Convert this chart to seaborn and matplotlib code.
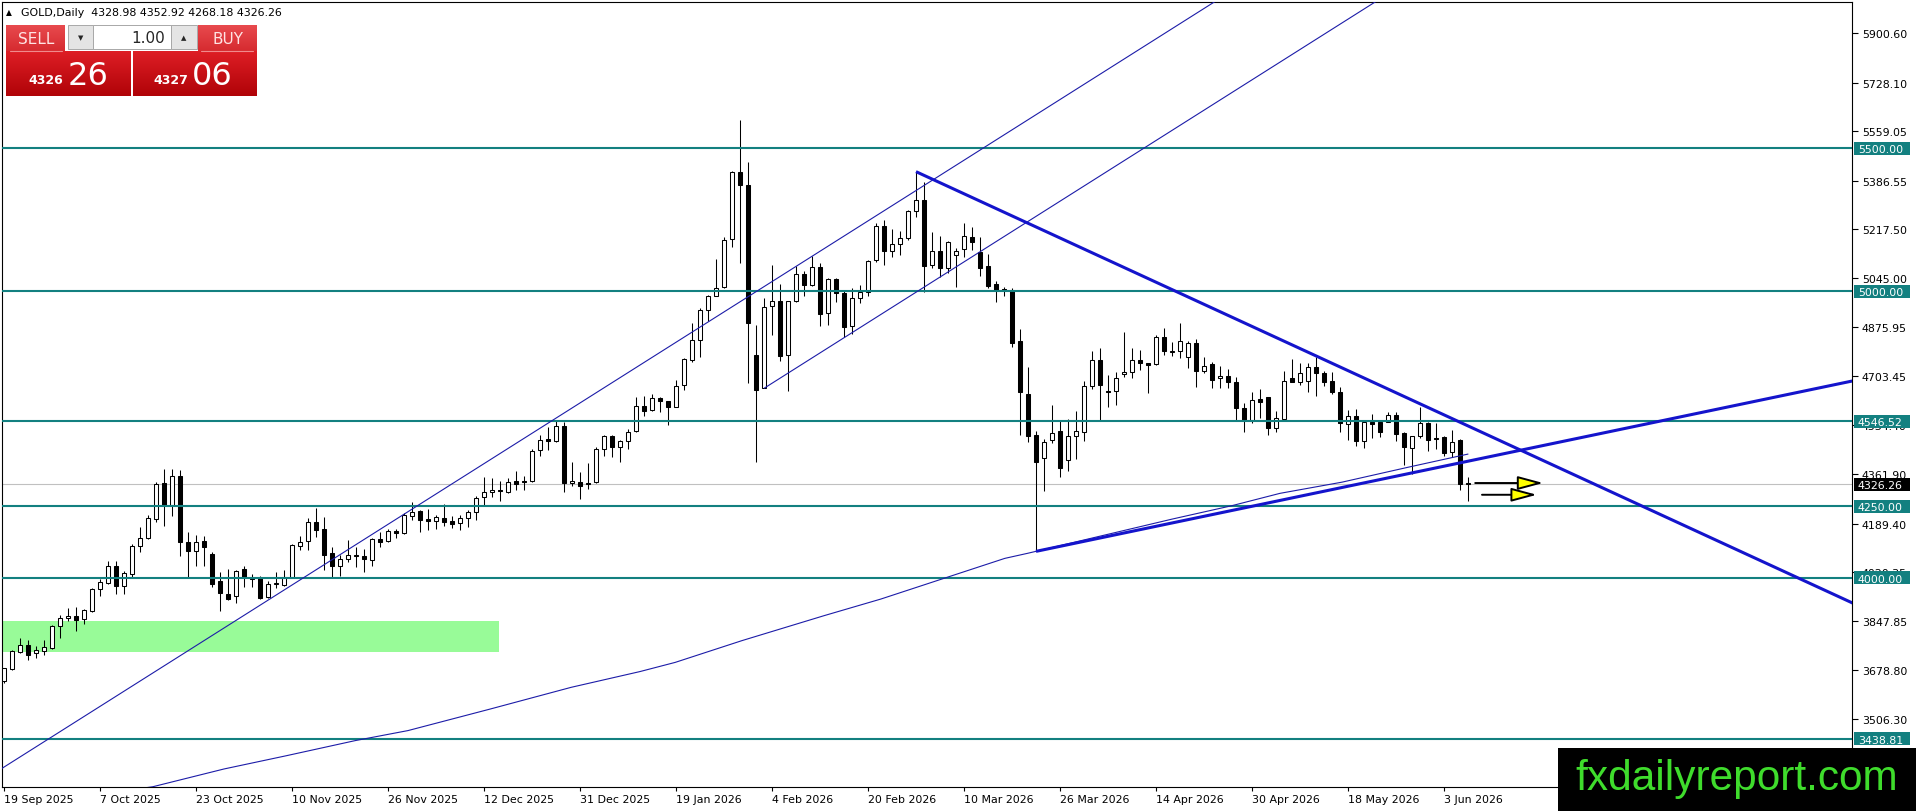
import numpy as np
import pandas as pd
import matplotlib
matplotlib.use("Agg")
import matplotlib.pyplot as plt
import seaborn as sns
from matplotlib.patches import Rectangle
from matplotlib.colors import LinearSegmentedColormap

# --- données (GOLD, Daily) ---
opens = [3641, 3682, 3742, 3764, 3738, 3746, 3756, 3831, 3859, 3866,
         3855, 3885, 3960, 3983, 4041, 3973, 4013, 4110, 4140, 4205,
         4331, 4254, 4354, 4124, 4095, 4129, 4083, 3989, 3944, 3935,
         4031, 3998, 3998, 3932, 3977, 3976, 4002, 4112, 4127, 4194,
         4170, 4086, 4042, 4065, 4077, 4076, 4063, 4136, 4130, 4164,
         4155, 4217, 4232, 4205, 4200, 4208, 4198, 4190, 4208, 4229,
         4281, 4298, 4304, 4301, 4337, 4337, 4337, 4445, 4485, 4476,
         4531, 4330, 4336, 4329, 4333, 4450, 4494, 4456, 4478, 4511,
         4599, 4586, 4627, 4616, 4595, 4673, 4762, 4829, 4935, 4985,
         5014, 5183, 5415, 5371, 4778, 4662, 4948, 4965, 4779, 4965,
         5059, 5023, 5085, 4923, 5043, 4994, 4878, 4976, 4997, 5108,
         5227, 5142, 5164, 5185, 5279, 5320, 5093, 5140, 5082, 5128,
         5148, 5189, 5136, 5087, 5025, 5007, 5003, 4826, 4642, 4499,
         4417, 4482, 4511, 4411, 4496, 4510, 4671, 4760, 4652, 4651,
         4710, 4717, 4762, 4749, 4746, 4839, 4787, 4791, 4770, 4820,
         4721, 4745, 4696, 4703, 4682, 4593, 4551, 4624, 4630, 4522,
         4554, 4696, 4682, 4688, 4735, 4714, 4688, 4650, 4537, 4566,
         4479, 4543, 4543, 4543, 4570, 4504, 4452, 4496, 4540, 4487,
         4493, 4438, 4481, 4328.98]
highs = [3686, 3749, 3789, 3782, 3761, 3783, 3835, 3870, 3895, 3898,
         3891, 3963, 3996, 4059, 4058, 4023, 4117, 4179, 4219, 4333,
         4380, 4380, 4376, 4159, 4151, 4147, 4089, 4019, 4031, 4027,
         4043, 4013, 4008, 3990, 4019, 4027, 4117, 4147, 4210, 4244,
         4211, 4109, 4080, 4132, 4109, 4101, 4140, 4159, 4171, 4172,
         4225, 4264, 4237, 4240, 4219, 4257, 4217, 4219, 4237, 4285,
         4351, 4347, 4339, 4347, 4372, 4354, 4449, 4499, 4525, 4547,
         4545, 4403, 4371, 4400, 4456, 4499, 4499, 4482, 4520, 4632,
         4636, 4643, 4632, 4618, 4691, 4769, 4890, 4941, 4988, 5113,
         5189, 5421, 5598, 5453, 4884, 4975, 5092, 5026, 4968, 5087,
         5071, 5122, 5098, 5048, 5045, 5002, 5011, 5022, 5109, 5239,
         5249, 5218, 5212, 5284, 5418, 5381, 5206, 5194, 5175, 5150,
         5239, 5223, 5189, 5129, 5037, 5015, 5010, 4869, 4735, 4513,
         4485, 4603, 4551, 4554, 4581, 4688, 4791, 4801, 4708, 4720,
         4857, 4801, 4795, 4750, 4848, 4871, 4824, 4888, 4825, 4834,
         4770, 4752, 4738, 4729, 4700, 4609, 4648, 4659, 4632, 4584,
         4723, 4764, 4749, 4749, 4770, 4723, 4717, 4665, 4586, 4589,
         4551, 4572, 4546, 4578, 4578, 4508, 4496, 4597, 4543, 4540,
         4496, 4516, 4483, 4352.92]
lows = [3632, 3680, 3737, 3714, 3719, 3732, 3752, 3791, 3851, 3816,
        3838, 3882, 3938, 3980, 3942, 3945, 4004, 4089, 4136, 4196,
        4182, 4217, 4077, 4004, 4043, 4043, 3969, 3885, 3923, 3914,
        3969, 3969, 3927, 3930, 3966, 3973, 3998, 4097, 4097, 4141,
        4029, 4004, 4005, 4054, 4037, 4022, 4043, 4109, 4126, 4140,
        4152, 4203, 4161, 4168, 4171, 4182, 4175, 4168, 4179, 4203,
        4254, 4281, 4269, 4296, 4308, 4308, 4335, 4426, 4447, 4473,
        4301, 4322, 4275, 4310, 4331, 4427, 4423, 4406, 4450, 4510,
        4566, 4584, 4580, 4535, 4595, 4657, 4755, 4772, 4898, 4985,
        5012, 5156, 5098, 4680, 4403, 4661, 4848, 4758, 4653, 4962,
        4985, 5018, 4878, 4884, 4964, 4840, 4851, 4958, 4983, 5101,
        5093, 5121, 5127, 5180, 5261, 4997, 5082, 5051, 5063, 5014,
        5121, 5146, 5052, 5011, 4964, 4985, 4805, 4499, 4475, 4093,
        4304, 4469, 4351, 4374, 4415, 4479, 4659, 4551, 4597, 4604,
        4700, 4696, 4727, 4644, 4744, 4779, 4773, 4766, 4734, 4667,
        4714, 4661, 4661, 4663, 4552, 4508, 4539, 4558, 4500, 4510,
        4551, 4682, 4674, 4648, 4636, 4668, 4642, 4510, 4481, 4461,
        4452, 4487, 4490, 4543, 4479, 4395, 4362, 4487, 4444, 4450,
        4424, 4421, 4308, 4268.18]
closes = [3684, 3745, 3764, 3732, 3747, 3759, 3831, 3859, 3866, 3854,
          3887, 3960, 3984, 4040, 3973, 4016, 4110, 4140, 4209, 4328,
          4255, 4354, 4124, 4095, 4124, 4109, 3980, 3948, 3926, 4023,
          4004, 3995, 3930, 3979, 3980, 4002, 4115, 4124, 4194, 4168,
          4081, 4042, 4066, 4079, 4075, 4065, 4136, 4126, 4162, 4155,
          4219, 4231, 4203, 4200, 4211, 4196, 4189, 4208, 4229, 4279,
          4298, 4307, 4302, 4336, 4329, 4335, 4442, 4482, 4476, 4531,
          4330, 4337, 4320, 4326, 4450, 4494, 4456, 4478, 4510, 4599,
          4584, 4627, 4616, 4595, 4669, 4764, 4829, 4935, 4985, 5011,
          5179, 5415, 5372, 4888, 4657, 4944, 4965, 4776, 4965, 5059,
          5023, 5085, 4920, 5043, 4994, 4877, 4976, 4997, 5105, 5227,
          5142, 5164, 5185, 5279, 5320, 5087, 5140, 5082, 5171, 5140,
          5192, 5173, 5080, 5018, 5006, 5004, 4819, 4648, 4496, 4406,
          4473, 4504, 4382, 4494, 4511, 4668, 4760, 4674, 4649, 4699,
          4717, 4762, 4749, 4743, 4839, 4791, 4791, 4828, 4820, 4721,
          4738, 4692, 4706, 4682, 4594, 4551, 4622, 4613, 4522, 4557,
          4688, 4685, 4714, 4735, 4714, 4685, 4648, 4540, 4566, 4479,
          4545, 4538, 4508, 4570, 4503, 4456, 4494, 4539, 4482, 4485,
          4436, 4473, 4328, 4326.26]

date_labels = ["19 Sep 2025", "7 Oct 2025", "23 Oct 2025", "10 Nov 2025",
               "26 Nov 2025", "12 Dec 2025", "31 Dec 2025", "19 Jan 2026",
               "4 Feb 2026", "20 Feb 2026", "10 Mar 2026", "26 Mar 2026",
               "14 Apr 2026", "30 Apr 2026", "18 May 2026", "3 Jun 2026"]
date_bars = [0, 12, 24, 36, 48, 60, 72, 84, 96, 108, 120, 132, 144, 156, 168, 180]

price_ticks = [5900.60, 5728.10, 5559.05, 5386.55, 5217.50, 5045.00, 4875.95,
               4703.45, 4534.40, 4361.90, 4189.40, 4020.35, 3847.85, 3678.80,
               3506.30]
levels = [5500.00, 5000.00, 4546.52, 4250.00, 4000.00, 3438.81]
last_price = 4326.26
ohlc_title = "GOLD,Daily  4328.98 4352.92 4268.18 4326.26"

# moyenne mobile (ligne fine)
ma_bar = [12, 18.6, 27.5, 35.25, 43.9, 50.5, 60.75, 70.9, 79.5, 83.9, 92.25,
          102.5, 109.6, 125.1, 128, 146, 153.5, 159.5, 167.25, 175.5, 183]
ma_val = [3245, 3271, 3333, 3379, 3432, 3467, 3542, 3618, 3673, 3705, 3781,
          3868, 3926, 4068, 4086, 4205, 4252, 4295, 4334, 4386, 4432]

# zone verte
zone_bars = [-1, 61.9]
zone_lo, zone_hi = 3740, 3850

# lignes de tendance : (barre d'ancrage, prix d'ancrage, pente par barre, début)
steep_line = (45.75, 4147.1, 17.65, -5)
steep_line2 = (95, 4661.5, 17.65, 95)
resist_line = (114, 5417.7, -12.86, 114)
support_line = (129, 4092.5, 5.827, 129)

# flèches
arrow_y = [4331, 4290]
arrow_from = [183.9, 184.75]
arrow_to = [192.4, 191.6]

# --- figure ---
W, H, DPI = 1916, 812, 100
sns.set_theme(style="white")
plt.rcParams['font.family'] = ['DejaVu Sans']

fig = plt.figure(figsize=(W / DPI, H / DPI), dpi=DPI)
fig.patch.set_facecolor("white")
x_left, x_right, y_top, y_bot = 2, 1852, 3, 788
ax = fig.add_axes([x_left / W, (H - y_bot) / H, (x_right - x_left) / W, (y_bot - y_top) / H])
ax.set_facecolor("white")

xmin, xmax = -0.25, 231.0
ymin, ymax = 3270.1, 6009.8
per_px = (ymax - ymin) / (y_bot - y_top)

df = pd.DataFrame({"open": opens, "high": highs, "low": lows, "close": closes})
df["bar"] = np.arange(len(df))
up = df["close"] >= df["open"]

# zone verte
ax.fill_between(zone_bars, zone_lo, zone_hi, color="#98fb98", lw=0, zorder=0.5)

# niveaux horizontaux
for lv in levels:
    ax.axhline(lv, color="#138080", lw=1.5, zorder=4)
ax.axhline(last_price, color="#c0c0c0", lw=0.8, zorder=1)

# bougies
ax.vlines(df["bar"], df["low"], df["high"], color="black", lw=0.75, zorder=2.9)
body_lo = np.minimum(df["open"], df["close"])
body_h = np.maximum((df["close"] - df["open"]).abs(), 1.2 * per_px)
ax.bar(df["bar"], body_h, bottom=body_lo, width=0.62,
       color=np.where(up, "white", "black"), edgecolor="black", linewidth=0.75, zorder=3)

# moyenne mobile
sns.lineplot(x=ma_bar, y=ma_val, ax=ax, color="#1c1ca8", lw=0.8, zorder=4, legend=False)


def trend(line, end, lw, col):
    b0, p0, slope, start = line
    xs = np.array([start, end])
    ax.plot(xs, p0 + (xs - b0) * slope, color=col, lw=lw, zorder=4.5, solid_capstyle="butt")


trend(steep_line, 300, 0.8, "#1c1ca8")
trend(steep_line2, 300, 0.8, "#1c1ca8")
trend(resist_line, 300, 2.2, "#1414cc")
trend(support_line, 300, 2.2, "#1414cc")

# flèches
for yy, x0, x1 in zip(arrow_y, arrow_from, arrow_to):
    ax.annotate("", xy=(x1, yy), xytext=(x0, yy),
                arrowprops=dict(arrowstyle="-|>,head_length=1.3,head_width=0.35",
                                fc="#ffff00", ec="black", lw=1.4, shrinkA=0, shrinkB=0),
                zorder=6)

ax.set_xlim(xmin, xmax)
ax.set_ylim(ymin, ymax)

# axes
ax.yaxis.tick_right()
ax.set_yticks(price_ticks)
ax.set_yticklabels([f"{v:.2f}" for v in price_ticks])
ax.set_xticks(date_bars)
ax.set_xticklabels(date_labels, ha="left")
ax.tick_params(axis="y", direction="out", length=4, width=0.8, pad=3,
               labelsize=7.9, colors="black", right=True, left=False)
ax.tick_params(axis="x", direction="out", length=3, width=0.8, pad=2,
               labelsize=7.9, colors="black", bottom=True)
for sp in ax.spines.values():
    sp.set_color("black")
    sp.set_linewidth(0.8)
    sp.set_visible(True)
ax.grid(False)

# étiquettes de prix à droite
box_x = 1 + 2 / (x_right - x_left)
box_w = 56 / (x_right - x_left)
txt_x = 1 + 6 / (x_right - x_left)
for lv, fc in [(v, "#138080") for v in levels] + [(last_price, "black")]:
    ax.add_patch(Rectangle((box_x, lv - 6.5 * per_px), box_w, 13 * per_px,
                           transform=ax.get_yaxis_transform(), fc=fc, ec="none",
                           clip_on=False, zorder=7))
    ax.text(txt_x, lv, f"{lv:.2f}", transform=ax.get_yaxis_transform(), ha="left",
            va="center_baseline", color="white", fontsize=7.9, zorder=8, clip_on=False)

# --- panneau SELL / BUY, titre et filigrane (coordonnées pixels) ---
pan = fig.add_axes([0, 0, 1, 1], zorder=10)
pan.set_xlim(0, W)
pan.set_ylim(H, 0)
pan.axis("off")
pan.patch.set_alpha(0)

pan.text(6, 13, "▲", fontsize=5.5, va="center", ha="left", color="black")
pan.text(21, 13, ohlc_title, fontsize=7.9, va="center", ha="left", color="black")

btn_cmap = LinearSegmentedColormap.from_list("btn", ["#e84a4e", "#d62b30"])
box_cmap = LinearSegmentedColormap.from_list("box", ["#de1e25", "#b00308"])
grad = np.linspace(0, 1, 64).reshape(-1, 1)


def grad_box(x0, x1, y0, y1, cmap):
    pan.imshow(grad, extent=(x0, x1, y1, y0), cmap=cmap, aspect="auto", zorder=1,
               interpolation="bilinear")


grad_box(6, 65, 26, 52, btn_cmap)
grad_box(198, 257, 26, 52, btn_cmap)
grad_box(6, 131, 52, 97, box_cmap)
grad_box(133, 257, 52, 97, box_cmap)
pan.plot([10, 62], [51.5, 51.5], color="#f08a8c", lw=0.8, zorder=2)
pan.plot([201, 253], [51.5, 51.5], color="#f08a8c", lw=0.8, zorder=2)
pan.add_patch(Rectangle((68, 26), 25, 24, fc="#e4e4e4", ec="#a8a8a8", lw=0.7, zorder=2))
pan.add_patch(Rectangle((93, 26), 78, 24, fc="white", ec="#a8a8a8", lw=0.7, zorder=2))
pan.add_patch(Rectangle((171, 26), 26, 24, fc="#e4e4e4", ec="#a8a8a8", lw=0.7, zorder=2))
pan.text(80.5, 38, "▼", fontsize=5, ha="center", va="center", zorder=3)
pan.text(184, 38, "▲", fontsize=5, ha="center", va="center", zorder=3)
pan.text(165, 38.5, "1.00", fontsize=11, ha="right", va="center", zorder=3)
pan.text(36, 39.5, "SELL", fontsize=11, ha="center", va="center", color="#ffe4e4", zorder=3)
pan.text(228, 39.5, "BUY", fontsize=11, ha="center", va="center", color="#ffe4e4", zorder=3)
pan.text(28, 84, "4326", fontsize=9, fontweight="bold", ha="left", va="baseline",
         color="white", zorder=3)
pan.text(68, 85, "26", fontsize=23, ha="left", va="baseline", color="white", zorder=3)
pan.text(153, 84, "4327", fontsize=9, fontweight="bold", ha="left", va="baseline",
         color="white", zorder=3)
pan.text(192, 85, "06", fontsize=23, ha="left", va="baseline", color="white", zorder=3)

pan.add_patch(Rectangle((1558, 749), W - 1558, H - 749, fc="black", ec="none", zorder=1))
pan.text(1737, 779, "fxdailyreport.com", fontsize=30.5, family=["Liberation Sans", "DejaVu Sans"],
         ha="center", va="center", color="#3fdc2c", zorder=2)

pan.set_xlim(0, W)
pan.set_ylim(H, 0)

fig.savefig("out.png", dpi=DPI)
